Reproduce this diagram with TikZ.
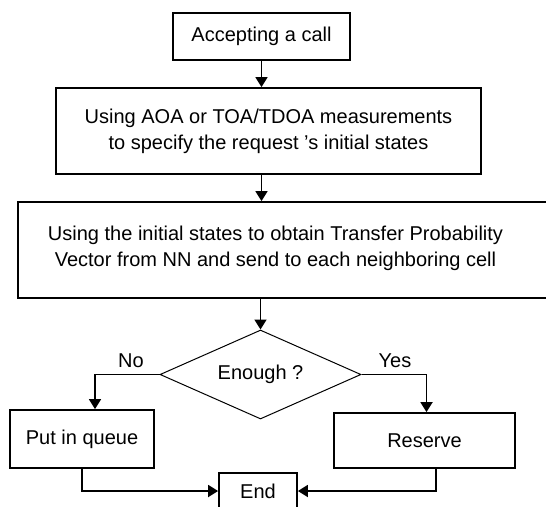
\documentclass[tikz,border=0pt]{standalone}
\usepackage{fontspec}
\setmainfont{Liberation Sans}
\usetikzlibrary{shapes.geometric,arrows.meta}
\begin{document}
\begin{tikzpicture}[x=1pt,y=-1pt,
  every node/.style={font=\fontsize{20}{26}\selectfont, inner sep=0pt},
  box/.style={draw, line width=1.8pt, rectangle},
  txt/.style={align=center},
  arr/.style={line width=1.8pt, -{Triangle[width=12pt,length=10pt]}},
  dec/.style={draw, line width=1pt, shape=diamond, aspect=2.26}]
\useasboundingbox (0,0) rectangle (546,506);
\clip (0,0) rectangle (546,506);
\fill[white] (0,0) rectangle (546,506);
\node[box, minimum width=177pt, minimum height=47pt] (b1) at (261.5,36.5) {Accepting a call};
\node[box, minimum width=425pt, minimum height=86pt, txt] (b2) at (268.5,131) {Using AOA or TOA/TDOA measurements\\to specify the request 's initial states};
\node[box, minimum width=542pt, minimum height=96pt] (b3) at (289,250) {};
\node[txt] (b3t) at (275.5,248) {Using the initial states to obtain Transfer Probability\\Vector from NN and send to each neighboring cell};
\node[dec, minimum width=201pt, minimum height=89pt] (dia) at (260.5,374.5) {Enough ?};
\node[box, minimum width=144pt, minimum height=58pt] (q) at (82,439) {Put in queue};
\node[box, minimum width=181pt, minimum height=55pt] (r) at (424.5,440.5) {Reserve};
\node[box, minimum width=78pt, minimum height=36pt] (e) at (258,491) {End};
\node (no) at (131,361) {No};
\node (yes) at (395,361) {Yes};
\draw[arr] (b1.south) -- (b1.south |- b2.north);
\draw[arr] (b2.south -| b1.south) -- (b3.north -| b1.south);
\draw[arr] (b3.south -| dia.north) -- (dia.north);
\draw[arr] (dia.west) -| ([xshift=13pt]q.north);
\draw[arr] (dia.east) -| ([xshift=2pt]r.north);
\draw[arr] (q.south) |- (e.west);
\draw[arr] ([xshift=11.5pt]r.south) |- (e.east);
\end{tikzpicture}
\end{document}
